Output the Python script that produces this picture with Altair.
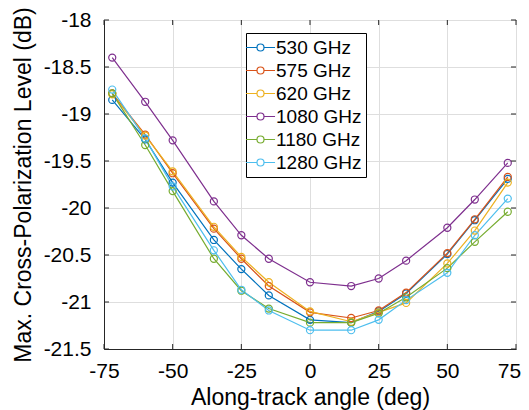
import altair as alt
import pandas as pd

angles = [-72, -60, -50, -35, -25, -15, 0, 15, 25, 35, 50, 60, 72]
series_names = ["530 GHz", "575 GHz", "620 GHz", "1080 GHz", "1180 GHz", "1280 GHz"]
v530 = [-18.85, -19.27, -19.73, -20.34, -20.65, -20.93, -21.19, -21.22, -21.10, -20.91, -20.49, -20.13, -19.69]
v575 = [-18.78, -19.22, -19.63, -20.22, -20.54, -20.83, -21.11, -21.17, -21.09, -20.90, -20.48, -20.12, -19.67]
v620 = [-18.79, -19.23, -19.61, -20.20, -20.52, -20.79, -21.10, -21.21, -21.11, -21.01, -20.59, -20.24, -19.73]
v1080 = [-18.40, -18.87, -19.28, -19.93, -20.29, -20.54, -20.79, -20.83, -20.75, -20.56, -20.21, -19.91, -19.52]
v1180 = [-18.78, -19.33, -19.82, -20.54, -20.88, -21.07, -21.22, -21.22, -21.12, -20.95, -20.64, -20.36, -20.04]
v1280 = [-18.74, -19.26, -19.77, -20.45, -20.87, -21.09, -21.30, -21.30, -21.19, -20.98, -20.69, -20.29, -19.90]
colors = ["#0072BD", "#D95319", "#EDB120", "#7E2F8E", "#77AC30", "#4DBEEE"]
x_ticks = [-75, -50, -25, 0, 25, 50, 75]
y_ticks = [-21.5, -21, -20.5, -20, -19.5, -19, -18.5, -18]

rows = []
for i, (name, vals) in enumerate(zip(series_names, [v530, v575, v620, v1080, v1180, v1280])):
    for a, v in zip(angles, vals):
        rows.append({"angle": a, "level": v, "freq": name, "order": i})
df = pd.DataFrame(rows)

W, H = 412, 329
FONT = "Liberation Sans"
AX = "#262626"
xs = alt.Scale(domain=[-75, 75], nice=False, zero=False)
ys = alt.Scale(domain=[-21.5, -18], nice=False, zero=False)

x_axis = alt.Axis(
    values=x_ticks, labelExpr="'' + datum.value", title="Along-track angle (deg)",
    titleFont=FONT, titleFontSize=23, titleFontWeight="normal", titleColor="#000000",
    titleBaseline="alphabetic", titleY=55,
    labelFont=FONT, labelFontSize=21, labelColor="#000000",
    labelOffset={"condition": {"test": "datum.value == 75", "value": -7}, "value": 0},
    ticks=False, tickSize=0, labelPadding=11,
    domainColor=AX, gridColor="#dedede", labelFlush=False)
y_axis = alt.Axis(
    values=y_ticks, labelExpr="'' + datum.value", title="Max. Cross-Polarization Level (dB)",
    titleFont=FONT, titleFontSize=23, titleFontWeight="normal", titleColor="#000000",
    labelFont=FONT, labelFontSize=21, labelColor="#000000",
    ticks=False, tickSize=0, labelPadding=13, titlePadding=8,
    domainColor=AX, gridColor="#dedede", labelFlush=False)

legend_path = ("M-1.53,0L-0.37,0M0.37,0L1.53,0"
               "M0.37,0A0.37,0.37,0,1,1,-0.37,0A0.37,0.37,0,1,1,0.37,0Z")

color = alt.Color(
    "freq:N",
    scale=alt.Scale(domain=series_names, range=colors),
    sort=series_names,
    legend=alt.Legend(
        title=None, orient="none", legendX=142, legendY=13,
        strokeColor="#000000", fillColor="#ffffff", padding=4,
        labelFont=FONT, labelFontSize=19, labelColor="#000000",
        symbolType=legend_path, symbolSize=361, symbolStrokeWidth=1.2,
        symbolFillColor="transparent", rowPadding=2, labelOffset=5,
    ),
)

lines = alt.Chart(df).mark_line(
    strokeWidth=1.2,
    point=alt.OverlayMarkDef(filled=False, size=50, strokeWidth=1.2, fill="transparent"),
).encode(
    x=alt.X("angle:Q", scale=xs, axis=x_axis),
    y=alt.Y("level:Q", scale=ys, axis=y_axis),
    color=color,
    order=alt.Order("order:Q"),
)

xt = pd.DataFrame({"angle": x_ticks})
yt = pd.DataFrame({"level": y_ticks})
TL = 5
bottom_ticks = alt.Chart(xt).mark_rule(color=AX, strokeWidth=1).encode(
    x=alt.X("angle:Q", scale=xs, axis=x_axis), y=alt.value(H), y2=alt.value(H - TL))
top_ticks = alt.Chart(xt).mark_rule(color=AX, strokeWidth=1).encode(
    x=alt.X("angle:Q", scale=xs, axis=x_axis), y=alt.value(0), y2=alt.value(TL))
left_ticks = alt.Chart(yt).mark_rule(color=AX, strokeWidth=1).encode(
    y=alt.Y("level:Q", scale=ys, axis=y_axis), x=alt.value(0), x2=alt.value(TL))
right_ticks = alt.Chart(yt).mark_rule(color=AX, strokeWidth=1).encode(
    y=alt.Y("level:Q", scale=ys, axis=y_axis), x=alt.value(W - TL), x2=alt.value(W))

chart = alt.layer(lines, bottom_ticks, top_ticks, left_ticks, right_ticks).properties(
    width=W, height=H,
    autosize=alt.AutoSizeParams(type="none"),
    padding={"left": 96, "top": 12, "right": 5, "bottom": 62},
    background="#ffffff",
).configure_view(stroke=AX, strokeWidth=1)

chart.save("out.html", embed_options={"renderer": "svg", "actions": False})
